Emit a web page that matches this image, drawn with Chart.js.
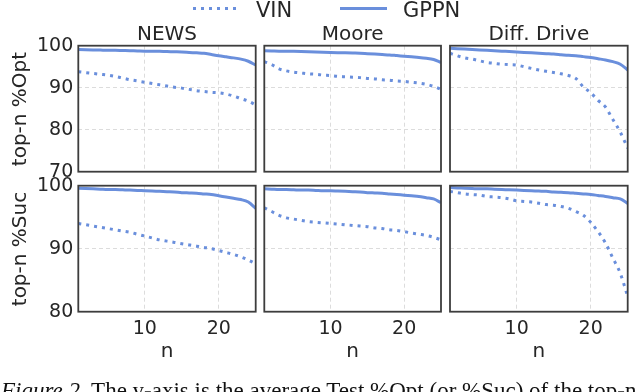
<!DOCTYPE html>
<html>
<head>
<meta charset="utf-8">
<script src="https://cdn.jsdelivr.net/npm/chart.js@4.4.1/dist/chart.umd.min.js"></script>
<style>
  html, body { margin: 0; padding: 0; background: #ffffff; }
  body { width: 640px; height: 392px; position: relative; overflow: hidden; font-family: "DejaVu Sans", sans-serif; color: #262626; }
  canvas { position: absolute; left: 0; top: 0; }
  .txt { position: absolute; white-space: nowrap; line-height: 1; }
  .title { font-size: 20px; width: 200px; text-align: center; }
  .ylab { font-size: 20px; width: 200px; height: 20px; text-align: center; transform: rotate(-90deg); }
  .caption { font-family: "Liberation Serif", "DejaVu Serif", serif; font-size: 23px; color: #111; left: 1px; top: 379px; }
</style>
</head>
<body>
<script>
// ---------------- data ----------------
const nValues = [1,2,3,4,5,6,7,8,9,10,11,12,13,14,15,16,17,18,19,20,21,22,23,24,25];
const xTicks = [10, 20];
const yTicksOpt = [70, 80, 90, 100];
const yTicksSuc = [80, 90, 100];
const seriesNames = ["VIN", "GPPN"];
const panelTitles = ["NEWS", "Moore", "Diff. Drive"];
const rowLabels = ["top-n %Opt", "top-n %Suc"];
const xLabel = "n";

const vinNewsOpt   = [93.8,93.6,93.4,93.2,93.0,92.7,92.3,91.9,91.6,91.3,91.0,90.7,90.4,90.1,89.9,89.6,89.3,89.1,88.9,88.8,88.5,88.0,87.4,86.8,85.9];
const gppnNewsOpt  = [99.1,99.05,99.0,98.95,98.9,98.9,98.85,98.8,98.75,98.7,98.7,98.65,98.6,98.55,98.5,98.4,98.3,98.2,97.9,97.6,97.35,97.1,96.8,96.3,95.4];
const vinMooreOpt  = [96.2,95.5,94.5,94.0,93.7,93.5,93.3,93.2,93.0,92.9,92.7,92.6,92.5,92.4,92.2,92.1,91.9,91.8,91.6,91.5,91.3,91.1,90.8,90.3,89.6];
const gppnMooreOpt = [98.8,98.75,98.7,98.7,98.65,98.6,98.55,98.5,98.45,98.4,98.35,98.3,98.25,98.2,98.1,98.0,97.9,97.8,97.65,97.5,97.35,97.2,97.0,96.7,96.0];
const vinDiffOpt   = [98.2,97.6,97.1,96.8,96.4,96.0,95.8,95.6,95.5,95.4,95.0,94.6,94.2,93.9,93.6,93.3,92.9,92.2,90.2,88.8,87.0,85.4,82.4,79.4,75.6];
const gppnDiffOpt  = [99.4,99.3,99.2,99.1,99.0,98.9,98.8,98.7,98.6,98.5,98.4,98.3,98.2,98.1,98.0,97.85,97.7,97.6,97.4,97.2,96.9,96.6,96.2,95.6,94.2];

const vinNewsSuc   = [94.0,93.8,93.6,93.4,93.2,93.0,92.8,92.6,92.3,92.0,91.7,91.4,91.2,91.0,90.8,90.6,90.4,90.2,90.0,89.7,89.4,89.1,88.7,88.2,87.6];
const gppnNewsSuc  = [99.6,99.55,99.5,99.45,99.4,99.4,99.35,99.3,99.25,99.2,99.15,99.1,99.05,99.0,98.9,98.85,98.8,98.7,98.6,98.4,98.2,98.0,97.8,97.4,96.4];
const vinMooreSuc  = [96.5,95.9,95.3,94.9,94.7,94.5,94.3,94.2,94.1,94.0,93.9,93.8,93.7,93.6,93.5,93.3,93.2,93.0,92.9,92.7,92.5,92.3,92.1,91.8,91.4];
const gppnMooreSuc = [99.5,99.45,99.4,99.4,99.35,99.3,99.3,99.25,99.2,99.2,99.15,99.1,99.05,99.0,98.9,98.85,98.8,98.7,98.6,98.5,98.4,98.3,98.1,97.9,97.3];
const vinDiffSuc   = [99.1,98.9,98.7,98.6,98.5,98.3,98.2,98.1,97.9,97.6,97.5,97.4,97.2,97.0,96.9,96.7,96.4,95.9,95.3,94.2,92.7,90.9,88.5,86.1,82.4];
const gppnDiffSuc  = [99.7,99.65,99.6,99.55,99.5,99.5,99.45,99.4,99.35,99.3,99.25,99.2,99.15,99.1,99.0,98.95,98.9,98.8,98.7,98.6,98.45,98.3,98.1,97.9,97.2];

// ---------------- layout ----------------
const W = 640, H = 392;
const colLeft  = [78.3, 264.3, 450];
const colRight = [255.7, 441, 627.7];
const rowTop   = [45.7, 185.7];
const rowBot   = [171.7, 311.7];
const YAXIS_W = 60, XAXIS_H = 36;
const LINE = '#6a8fdc';
const TXT = '#262626';

const panels = [
  { r: 0, c: 0, vin: vinNewsOpt,  gppn: gppnNewsOpt },
  { r: 0, c: 1, vin: vinMooreOpt, gppn: gppnMooreOpt },
  { r: 0, c: 2, vin: vinDiffOpt,  gppn: gppnDiffOpt },
  { r: 1, c: 0, vin: vinNewsSuc,  gppn: gppnNewsSuc },
  { r: 1, c: 1, vin: vinMooreSuc, gppn: gppnMooreSuc },
  { r: 1, c: 2, vin: vinDiffSuc,  gppn: gppnDiffSuc },
];

Chart.defaults.font.family = '"DejaVu Sans", sans-serif';

const framePlugin = {
  id: 'frame',
  afterDraw(chart) {
    const a = chart.chartArea, ctx = chart.ctx;
    ctx.save();
    ctx.strokeStyle = '#3d3d3d';
    ctx.lineWidth = 1.8;
    ctx.strokeRect(a.left, a.top, a.right - a.left, a.bottom - a.top);
    ctx.restore();
  }
};

const legendPlugin = {
  id: 'customLegend',
  afterDraw(chart, args, opts) {
    if (!opts.show) return;
    const ctx = chart.ctx;
    const items = [
      { ds: chart.data.datasets[0], x0: 193, x1: 238, tx: 256 },
      { ds: chart.data.datasets[1], x0: 340, x1: 387, tx: 403 },
    ];
    ctx.save();
    items.forEach(it => {
      ctx.beginPath();
      ctx.strokeStyle = it.ds.borderColor;
      ctx.lineWidth = it.ds.borderWidth;
      ctx.lineCap = 'butt';
      ctx.setLineDash(it.ds.borderDash || []);
      ctx.moveTo(it.x0, 8.5);
      ctx.lineTo(it.x1, 8.5);
      ctx.stroke();
      ctx.setLineDash([]);
      ctx.fillStyle = TXT;
      ctx.font = '21px "DejaVu Sans"';
      ctx.textBaseline = 'alphabetic';
      ctx.textAlign = 'left';
      ctx.fillText(it.ds.label, it.tx, 16.5);
    });
    ctx.restore();
  }
};

panels.forEach((p, i) => {
  const cv = document.createElement('canvas');
  cv.width = W; cv.height = H;
  cv.style.width = W + 'px'; cv.style.height = H + 'px';
  document.body.appendChild(cv);
  const yt = p.r === 0 ? yTicksOpt : yTicksSuc;
  new Chart(cv.getContext('2d'), {
    type: 'line',
    data: {
      labels: nValues,
      datasets: [
        { label: seriesNames[0], data: nValues.map((n, k) => ({ x: n, y: p.vin[k] })),
          borderColor: LINE, borderWidth: 3, borderDash: [3, 5], borderCapStyle: 'butt',
          pointRadius: 0, fill: false, cubicInterpolationMode: 'monotone' },
        { label: seriesNames[1], data: nValues.map((n, k) => ({ x: n, y: p.gppn[k] })),
          borderColor: LINE, borderWidth: 3, pointRadius: 0, fill: false,
          cubicInterpolationMode: 'monotone' },
      ]
    },
    options: {
      responsive: false,
      animation: false,
      devicePixelRatio: 1,
      layout: { padding: {
        left: colLeft[p.c] - YAXIS_W,
        top: rowTop[p.r],
        right: W - colRight[p.c],
        bottom: H - rowBot[p.r] - XAXIS_H } },
      plugins: { legend: { display: false }, tooltip: { enabled: false }, customLegend: { show: i === 0 } },
      scales: {
        x: {
          type: 'linear', min: 1, max: 25,
          afterBuildTicks: s => { s.ticks = xTicks.map(v => ({ value: v })); },
          afterFit: s => { s.height = XAXIS_H; },
          ticks: { display: p.r === 1, color: TXT, font: { size: 19 }, padding: 6, maxRotation: 0 },
          grid: { color: '#dcdcdc', lineWidth: 1, drawTicks: false },
          border: { display: false, dash: [4, 3] }
        },
        y: {
          type: 'linear', min: yt[0], max: yt[yt.length - 1],
          afterBuildTicks: s => { s.ticks = yt.map(v => ({ value: v })); },
          afterFit: s => { s.width = YAXIS_W; },
          ticks: { display: p.c === 0, color: TXT, font: { size: 19 }, padding: 5 },
          grid: { color: '#dcdcdc', lineWidth: 1, drawTicks: false },
          border: { display: false, dash: [4, 3] }
        }
      }
    },
    plugins: [framePlugin, legendPlugin]
  });
});

function addText(cls, text, left, top) {
  const d = document.createElement('div');
  d.className = 'txt ' + cls;
  d.textContent = text;
  d.style.left = left + 'px';
  d.style.top = top + 'px';
  document.body.appendChild(d);
  return d;
}
// panel titles
panelTitles.forEach((t, c) => addText('title', t, (colLeft[c] + colRight[c]) / 2 - 100, 23));
// y-axis titles
rowLabels.forEach((t, r) => addText('ylab', t, 18.6 - 100, (rowTop[r] + rowBot[r]) / 2 - 10));
// x-axis titles
[0, 1, 2].forEach(c => addText('title', xLabel, (colLeft[c] + colRight[c]) / 2 - 100, 340));
// caption
const cap = document.createElement('div');
cap.className = 'txt caption';
cap.innerHTML = '<i>Figure 2.</i> The y-axis is the average Test %Opt (or %Suc) of the top-n';
document.body.appendChild(cap);
</script>
</body>
</html>
